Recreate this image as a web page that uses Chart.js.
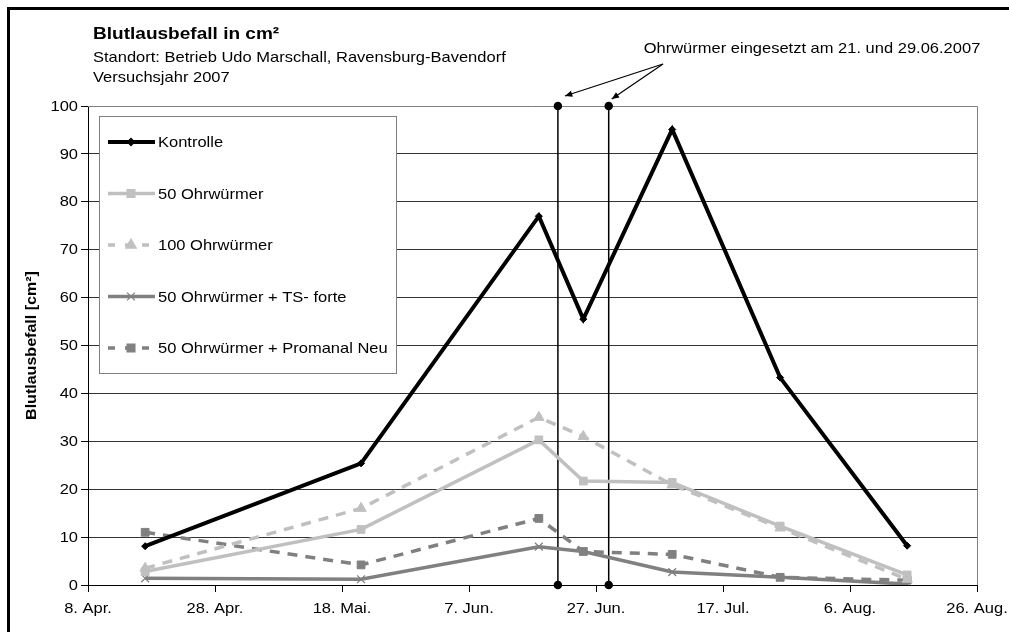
<!DOCTYPE html>
<html>
<head>
<meta charset="utf-8">
<script src="https://cdn.jsdelivr.net/npm/chart.js@4.4.0/dist/chart.umd.min.js"></script>
<style>
  body { margin: 0; background: #fff; }
  #wrap { width: 1009px; height: 632px; position: relative; }
</style>
</head>
<body>
<div id="wrap"><canvas id="chart" width="1009" height="632"></canvas></div>
<script>
// sampling dates and readings (cm²)
const startDate = '2007-04-08'
const dates = ['2007-04-17', '2007-05-21', '2007-06-18', '2007-06-25', '2007-07-09', '2007-07-26', '2007-08-15']
const kontrolle = [8.1, 25.4, 77, 55.5, 95.1, 43.3, 8.2]
const ohr50 = [2.8, 11.6, 30.3, 21.7, 21.4, 12.3, 2.1]
const ohr100 = [3.5, 16, 35, 31, 20.9, 11.9, 1.2]
const tsForte = [1.4, 1.2, 8, 7, 2.7, 1.6, 0.2]
const promanal = [11, 4.2, 13.9, 7, 6.4, 1.6, 1]
// release dates of the earwigs
const releaseDates = ['2007-06-21', '2007-06-29']
const xTickLabels = ['8. Apr.', '28. Apr.', '18. Mai.', '7. Jun.', '27. Jun.', '17. Jul.', '6. Aug.', '26. Aug.']
const yMax = 100

function dayOf(d) {
  return (Date.parse(d) - Date.parse(startDate)) / 86400000
}
function points(values) {
  return values.map((v, i) => ({ x: dayOf(dates[i]), y: v }))
}

const font = "Arial, 'Liberation Sans', sans-serif"
const SX = 1.1 // the original text is a bit wider than plain Arial

// draws text a little stretched along its direction
function wideText(ctx, text, x, y, size, opts) {
  opts = opts || {}
  ctx.save()
  ctx.translate(x, y)
  if (opts.rotate) ctx.rotate(opts.rotate)
  ctx.scale(opts.sx || SX, 1)
  ctx.font = (opts.bold ? 'bold ' : '') + size + 'px ' + font
  ctx.textAlign = opts.align || 'left'
  ctx.textBaseline = opts.baseline || 'alphabetic'
  ctx.fillStyle = '#000'
  ctx.fillText(text, 0, 0)
  ctx.restore()
}

const series = [
  { label: 'Kontrolle', data: kontrolle, color: '#000000', dash: [], point: 'rectRot', radius: 3.5, width: 4 },
  { label: '50 Ohrwürmer', data: ohr50, color: '#c0c0c0', dash: [], point: 'rect', radius: 5.5, width: 3.5 },
  { label: '100 Ohrwürmer', data: ohr100, color: '#c0c0c0', dash: [10, 8], point: 'triangle', radius: 6, width: 3.5 },
  { label: '50 Ohrwürmer + TS- forte', data: tsForte, color: '#808080', dash: [], point: 'crossRot', radius: 5.5, width: 3.5 },
  { label: '50 Ohrwürmer + Promanal Neu', data: promanal, color: '#808080', dash: [10, 8], point: 'rect', radius: 5.5, width: 3.5 },
]

const datasets = series.map(s => ({
  label: s.label,
  data: points(s.data),
  borderColor: s.color,
  backgroundColor: s.color,
  borderWidth: s.width,
  borderDash: s.dash,
  pointStyle: s.point,
  pointRadius: s.radius,
  pointBorderWidth: s.point === 'crossRot' ? 1.3 : 1,
  pointBorderColor: s.color,
  tension: 0,
  fill: false,
}))

// vertical marker lines for the release dates
releaseDates.forEach(d => {
  datasets.push({
    label: 'release',
    data: [{ x: dayOf(d), y: 0 }, { x: dayOf(d), y: yMax }],
    borderColor: '#000',
    backgroundColor: '#000',
    borderWidth: 1.5,
    pointRadius: 3.5,
    pointStyle: 'circle',
    clip: false,
  })
})

const framePlugin = {
  id: 'frame',
  beforeDraw(chart) {
    const ctx = chart.ctx
    ctx.save()
    ctx.fillStyle = '#fff'
    ctx.fillRect(0, 0, chart.width, chart.height)
    ctx.strokeStyle = '#000'
    ctx.lineWidth = 3
    ctx.beginPath()
    ctx.moveTo(8.5, 700)
    ctx.lineTo(8.5, 8.5)
    ctx.lineTo(1100, 8.5)
    ctx.stroke()
    ctx.restore()
    // titles
    wideText(ctx, 'Blutlausbefall in cm²', 93, 39, 17, { bold: true, sx: 1.12 })
    wideText(ctx, 'Standort: Betrieb Udo Marschall, Ravensburg-Bavendorf', 93, 62, 15)
    wideText(ctx, 'Versuchsjahr 2007', 93, 82, 15)
    // axis title
    const a = chart.chartArea
    wideText(ctx, 'Blutlausbefall [cm²]', 32, (a.top + a.bottom) / 2, 15,
      { bold: true, rotate: -Math.PI / 2, align: 'center', baseline: 'middle', sx: 1.07 })
    // tick labels
    const x = chart.scales.x, y = chart.scales.y
    x.ticks.forEach((t, i) => {
      wideText(ctx, xTickLabels[i], x.getPixelForValue(t.value), 609, 15, { align: 'center', baseline: 'middle' })
    })
    y.ticks.forEach(t => {
      wideText(ctx, String(t.value), 78, y.getPixelForValue(t.value) + 0.5, 15, { align: 'right', baseline: 'middle' })
    })
  },
  beforeDatasetsDraw(chart) {
    const { ctx, chartArea: a } = chart
    ctx.save()
    ctx.strokeStyle = '#808080'
    ctx.lineWidth = 1
    ctx.beginPath()
    ctx.moveTo(a.left, a.top + 0.5)
    ctx.lineTo(a.right + 0.5, a.top + 0.5)
    ctx.lineTo(a.right + 0.5, a.bottom)
    ctx.stroke()
    ctx.restore()
  },
  afterDraw(chart) {
    const { ctx, scales } = chart
    const x = scales.x, y = scales.y
    // annotation with arrows
    wideText(ctx, 'Ohrwürmer eingesetzt am 21. und 29.06.2007', 812, 53, 15, { align: 'center' })
    ctx.save()
    ctx.fillStyle = '#000'
    const from = [663, 64]
    const tips = [
      [x.getPixelForValue(dayOf(releaseDates[0])) + 7, y.getPixelForValue(yMax) - 10],
      [x.getPixelForValue(dayOf(releaseDates[1])) + 3, y.getPixelForValue(yMax) - 7],
    ]
    ctx.strokeStyle = '#000'
    ctx.lineWidth = 1.2
    tips.forEach(t => {
      ctx.beginPath()
      ctx.moveTo(from[0], from[1])
      ctx.lineTo(t[0], t[1])
      ctx.stroke()
      const ang = Math.atan2(t[1] - from[1], t[0] - from[0])
      ctx.beginPath()
      ctx.moveTo(t[0], t[1])
      ctx.lineTo(t[0] - 8 * Math.cos(ang - 0.4), t[1] - 8 * Math.sin(ang - 0.4))
      ctx.lineTo(t[0] - 8 * Math.cos(ang + 0.4), t[1] - 8 * Math.sin(ang + 0.4))
      ctx.closePath()
      ctx.fill()
    })
    // legend box
    const lx = 99, ly = 116, lw = 297, lh = 257
    ctx.fillStyle = '#fff'
    ctx.fillRect(lx, ly, lw, lh)
    ctx.strokeStyle = '#808080'
    ctx.lineWidth = 1
    ctx.strokeRect(lx + 0.5, ly + 0.5, lw, lh)
    series.forEach((s, i) => {
      const cy = ly + 26 + i * 51.5
      ctx.strokeStyle = s.color
      ctx.lineWidth = s.width
      ctx.setLineDash(s.dash.length ? [7, 10] : [])
      ctx.beginPath()
      ctx.moveTo(108, cy)
      ctx.lineTo(155, cy)
      ctx.stroke()
      ctx.setLineDash([])
      ctx.fillStyle = s.color
      ctx.strokeStyle = s.color
      ctx.lineWidth = 1.3
      Chart.helpers.drawPoint(ctx, { pointStyle: s.point, radius: s.radius, borderWidth: 1.3, rotation: 0 }, 131, cy)
      wideText(ctx, s.label, 158, cy + 1, 15, { baseline: 'middle' })
    })
    ctx.restore()
  }
}

new Chart('chart', {
  type: 'line',
  data: { datasets },
  plugins: [framePlugin],
  options: {
    responsive: false,
    animation: false,
    layout: { padding: { top: 106, right: 32, left: 0, bottom: 0 } },
    plugins: {
      legend: { display: false },
      tooltip: { enabled: false },
    },
    scales: {
      x: {
        type: 'linear',
        min: 0,
        max: 140,
        afterFit(scale) { scale.height = 47 },
        afterBuildTicks(scale) {
          scale.ticks = xTickLabels.map((l, i) => ({ value: i * 20 }))
        },
        ticks: {
          color: 'rgba(0,0,0,0)',
          font: { size: 13, family: font },
          maxRotation: 0,
          autoSkip: false,
          callback: (v) => xTickLabels[v / 20],
        },
        grid: { drawOnChartArea: false, color: '#000', tickLength: 7 },
        border: { color: '#000', width: 1 },
      },
      y: {
        min: 0,
        max: yMax,
        afterFit(scale) { scale.width = 88 },
        ticks: {
          stepSize: 10,
          color: 'rgba(0,0,0,0)',
          font: { size: 13, family: font },
        },
        grid: {
          color: (c) => c.tick && c.tick.value === yMax ? 'rgba(0,0,0,0)' : '#333',
          tickColor: '#000',
          tickLength: 7,
        },
        border: { color: '#000', width: 1 },
      },
    },
  },
})
</script>
</body>
</html>
